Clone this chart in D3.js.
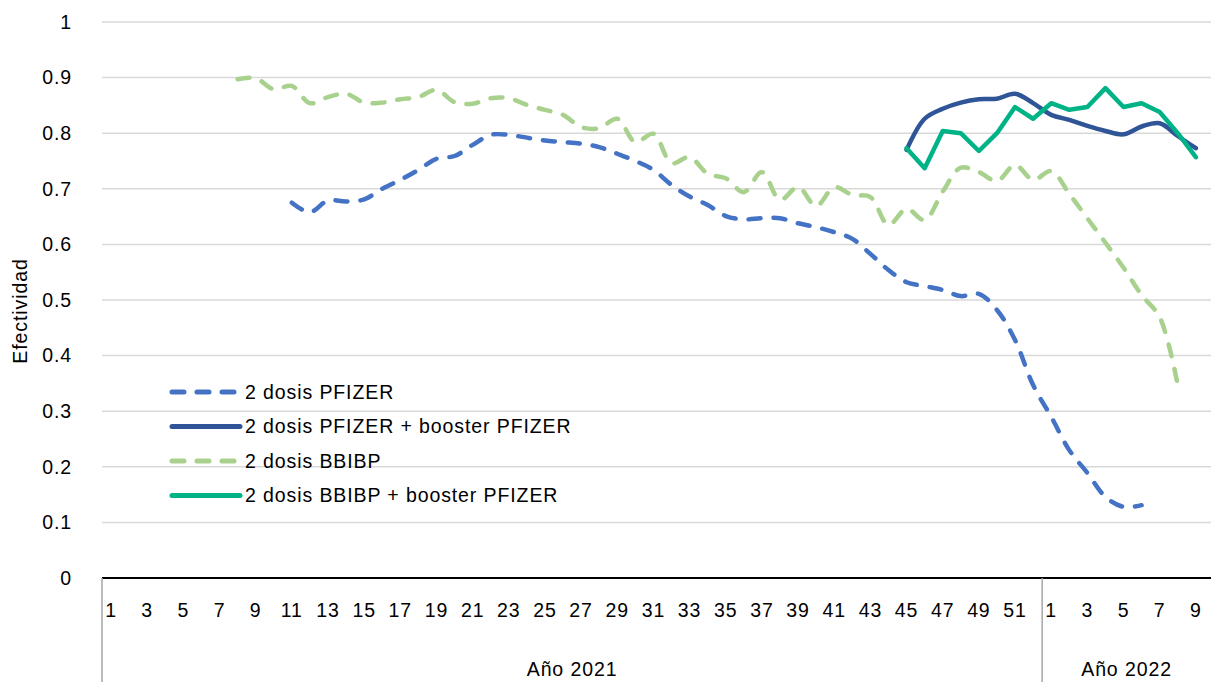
<!DOCTYPE html>
<html>
<head>
<meta charset="utf-8">
<script src="https://cdn.jsdelivr.net/npm/d3@7"></script>
<style>
  body { margin: 0; background: #fff; }
  text { font-family: "Liberation Sans", Arial, Helvetica, sans-serif; fill: #000; }
</style>
</head>
<body>
<svg width="1211" height="682"></svg>
<script>
// categories: epidemiological weeks
const weeks2021 = d3.range(1, 53);
const weeks2022 = d3.range(1, 10);
const yTicks = [0, 0.1, 0.2, 0.3, 0.4, 0.5, 0.6, 0.7, 0.8, 0.9, 1];
const yearLabels = ["Año 2021", "Año 2022"];

// series values (null = no data)
const pfizer2From = "2021-11";
const pfizer2 = [0.675, 0.658, 0.679, 0.677, 0.681, 0.700, 0.716, 0.734, 0.754, 0.759,
  0.779, 0.797, 0.797, 0.792, 0.787, 0.784, 0.781, 0.775, 0.763, 0.750,
  0.734, 0.707, 0.686, 0.671, 0.651, 0.645, 0.647, 0.647, 0.638, 0.631,
  0.622, 0.610, 0.583, 0.554, 0.532, 0.525, 0.518, 0.507, 0.511, 0.482,
  0.428, 0.347,
  0.290, 0.230, 0.189, 0.146, 0.128, 0.131];

const pfizerBoostFrom = "2021-45";
const pfizerBoost = [0.770, 0.826, 0.844, 0.855, 0.861, 0.862, 0.871, 0.854,
  0.833, 0.824, 0.813, 0.804, 0.798, 0.812, 0.818, 0.795, 0.773];

const bbibp2From = "2021-8";
const bbibp2 = [0.897, 0.899, 0.879, 0.885, 0.854, 0.865, 0.871, 0.855, 0.855, 0.861,
  0.865, 0.878, 0.856, 0.853, 0.863, 0.863, 0.851, 0.842, 0.833, 0.811,
  0.809, 0.826, 0.784, 0.799, 0.746, 0.757, 0.727, 0.719, 0.694, 0.730,
  0.680, 0.703, 0.669, 0.703, 0.689, 0.685, 0.635, 0.664, 0.644, 0.695,
  0.738, 0.730, 0.714, 0.743, 0.716,
  0.732, 0.691, 0.647, 0.603, 0.558, 0.509, 0.469, 0.347];

const bbibpBoostFrom = "2021-45";
const bbibpBoost = [0.773, 0.737, 0.804, 0.800, 0.768, 0.800, 0.847, 0.826,
  0.854, 0.842, 0.847, 0.881, 0.847, 0.854, 0.838, 0.800, 0.757];

const cats = weeks2021.map(w => ({ key: "2021-" + w, year: 2021, week: w }))
  .concat(weeks2022.map(w => ({ key: "2022-" + w, year: 2022, week: w })));
const keys = cats.map(c => c.key);

function toSeries(from, vals) {
  const start = keys.indexOf(from);
  return keys.map((k, i) => {
    const j = i - start;
    return { key: k, v: (j >= 0 && j < vals.length) ? vals[j] : null };
  });
}

const series = [
  { name: "2 dosis PFIZER", data: toSeries(pfizer2From, pfizer2), color: "#4472C4", dash: "12,13", smooth: true },
  { name: "2 dosis PFIZER + booster PFIZER", data: toSeries(pfizerBoostFrom, pfizerBoost), color: "#2F5597", dash: null, smooth: true },
  { name: "2 dosis BBIBP", data: toSeries(bbibp2From, bbibp2), color: "#A9D18E", dash: "12,13", smooth: true },
  { name: "2 dosis BBIBP + booster PFIZER", data: toSeries(bbibpBoostFrom, bbibpBoost), color: "#00B386", dash: null, smooth: false }
];

const svg = d3.select("svg");
const plotLeft = 102, plotRight = 1211, plotTop = 22, plotBottom = 578;
const band = 18.08;

const x = d3.scaleBand()
  .domain(keys)
  .range([plotLeft, plotLeft + keys.length * band])
  .padding(0);
const cx = k => x(k) + x.bandwidth() / 2;

const y = d3.scaleLinear().domain([0, 1]).range([plotBottom, plotTop]);

const fs = "19.5px";
const ls = "0.9px";

// gridlines
svg.append("g")
  .selectAll("line")
  .data(yTicks.filter(t => t > 0))
  .enter().append("line")
  .attr("x1", plotLeft).attr("x2", plotRight)
  .attr("y1", d => y(d)).attr("y2", d => y(d))
  .attr("stroke", "#d9d9d9")
  .attr("stroke-width", 1.5);

// y labels
svg.append("g")
  .selectAll("text")
  .data(yTicks)
  .enter().append("text")
  .attr("x", 72)
  .attr("y", d => y(d))
  .attr("dy", "0.35em")
  .attr("text-anchor", "end")
  .style("font-size", fs)
  .style("letter-spacing", ls)
  .text(d => d3.format("~g")(d));

svg.append("text")
  .attr("transform", "translate(27,311) rotate(-90)")
  .attr("text-anchor", "middle")
  .style("font-size", fs)
  .style("letter-spacing", ls)
  .text("Efectividad");

// x axis
const xAxis = svg.append("g")
  .attr("transform", `translate(0,${plotBottom})`)
  .call(d3.axisBottom(x)
    .tickValues(cats.filter(c => c.week % 2 === 1).map(c => c.key))
    .tickSize(0)
    .tickPadding(36)
    .tickFormat(k => k.split("-")[1]));
xAxis.select(".domain").remove();
xAxis.selectAll("text")
  .attr("font-family", null)
  .style("font-size", fs)
  .style("letter-spacing", ls)
  .attr("dy", "0.15em");

svg.append("line")
  .attr("x1", plotLeft).attr("x2", plotRight)
  .attr("y1", plotBottom).attr("y2", plotBottom)
  .attr("stroke", "#000").attr("stroke-width", 2);

// year separators
const sepX = [plotLeft, x("2022-1")];
svg.append("g")
  .selectAll("line")
  .data(sepX)
  .enter().append("line")
  .attr("x1", d => d).attr("x2", d => d)
  .attr("y1", plotBottom).attr("y2", 682)
  .attr("stroke", "#a6a6a6").attr("stroke-width", 1.5);

const yearX = [
  (x("2021-1") + x("2022-1")) / 2,
  (x("2022-1") + plotRight) / 2
];
svg.append("g")
  .selectAll("text")
  .data(yearLabels)
  .enter().append("text")
  .attr("x", (d, i) => yearX[i])
  .attr("y", 676)
  .attr("text-anchor", "middle")
  .style("font-size", fs)
  .style("letter-spacing", ls)
  .text(d => d);

// lines
series.forEach(s => {
  const line = d3.line()
    .defined(d => d.v != null)
    .x(d => cx(d.key))
    .y(d => y(d.v))
    .curve(s.smooth ? d3.curveCatmullRom.alpha(0.5) : d3.curveLinear);
  svg.append("path")
    .datum(s.data)
    .attr("d", line)
    .attr("fill", "none")
    .attr("stroke", s.color)
    .attr("stroke-width", 4.5)
    .attr("stroke-linecap", "round")
    .attr("stroke-linejoin", "round")
    .attr("stroke-dasharray", s.dash);
});

// legend
const legend = svg.append("g").attr("transform", "translate(172,392)");
const row = legend.selectAll("g")
  .data(series)
  .enter().append("g")
  .attr("transform", (d, i) => `translate(0,${i * 34.5})`);
row.append("line")
  .attr("x1", 0).attr("x2", 68)
  .attr("stroke", d => d.color)
  .attr("stroke-width", 5)
  .attr("stroke-linecap", "round")
  .attr("stroke-dasharray", d => d.dash);
row.append("text")
  .attr("x", 73)
  .attr("dy", "0.35em")
  .style("font-size", fs)
  .style("letter-spacing", ls)
  .text(d => d.name);
</script>
</body>
</html>
